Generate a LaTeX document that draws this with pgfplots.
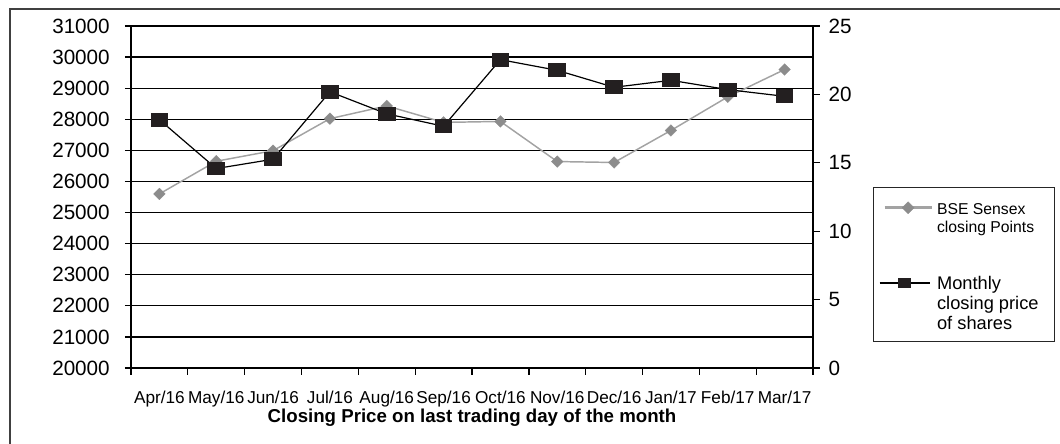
\documentclass[border=0pt]{standalone}
\usepackage{fontspec}
\setmainfont{Liberation Sans}
\usepackage{pgfplots}
\pgfplotsset{compat=1.18}
\definecolor{sgray}{HTML}{A3A3A3}
\definecolor{mgray}{HTML}{8C8C8C}
\definecolor{sqblack}{HTML}{231F20}
\pgfplotsset{
  limgA/.style={legend image code/.code={\draw[mark repeat=2,mark phase=2,##1,yshift=5.25pt] plot coordinates {(3.75pt,0pt) (21.4pt,0pt) (39pt,0pt)};}},
  limgB/.style={legend image code/.code={\draw[mark repeat=2,mark phase=2,##1,yshift=5.25pt,line width=2pt,mark size=3.1pt] plot coordinates {(0pt,0pt) (18.75pt,0pt) (37.5pt,0pt)};}},
}

\begin{document}
\begin{tikzpicture}
\path[use as bounding box] (-98.25pt,-56.25pt) rectangle (696.75pt,276pt);
\draw[line width=1.5pt, color=black!75] (-90.75pt,-80pt) -- (-90.75pt,269.25pt) -- (720pt,269.25pt);
\fill[white] (556.5pt,20.25pt) rectangle (692.25pt,135pt);

\begin{axis}[
  at={(0,0)}, anchor=south west,
  scale only axis, width=511.5pt, height=256.5pt,
  xmin=-0.5, xmax=11.5, ymin=20000, ymax=31000,
  xtick={0,...,11},
  xticklabels={Apr/16,May/16,Jun/16,Jul/16,Aug/16,Sep/16,Oct/16,Nov/16,Dec/16,Jan/17,Feb/17,Mar/17},
  minor xtick={-0.5,0.5,...,11.5},
  major x tick style={draw=none},
  ytick distance=1000,
  xtick pos=bottom, ytick pos=left,
  tick align=outside,
  major tick length=4.5pt, minor tick length=5pt,
  tick style={line width=1pt, black},
  axis line style={line width=1.4pt, black},
  ymajorgrids, grid style={line width=1pt, black},
  scaled y ticks=false,
  /pgf/number format/assume math mode=true,
  yticklabel style={/pgf/number format/set thousands separator={}, font=\fontsize{15.5}{18}\selectfont, anchor=east, inner sep=0pt, xshift=-11.25pt},
  xticklabel style={font=\fontsize{12.9}{15}\selectfont, anchor=base, inner sep=0pt, yshift=-22pt},
  xlabel={Closing Price on last trading day of the month},
  xlabel style={font=\bfseries\fontsize{14}{16}\selectfont, at={(axis description cs:0.5,0)}, anchor=base, inner sep=0pt, yshift=-40.5pt},
]
\addplot[color=sgray, line width=1.1pt, mark=square*, mark size=3.1pt,
  mark options={rotate=45, fill=mgray, draw=mgray, line width=0.2pt}]
  coordinates {(0,25600) (1,26650) (2,26990) (3,28020) (4,28430) (5,27900) (6,27930) (7,26640) (8,26610) (9,27640) (10,28720) (11,29600)};
\end{axis}

\begin{axis}[
  at={(0,0)}, anchor=south west,
  scale only axis, width=511.5pt, height=256.5pt,
  xmin=-0.5, xmax=11.5, ymin=0, ymax=25,
  ytick distance=5,
  axis x line=none, axis y line*=right,
  tick align=outside,
  major tick length=5pt,
  tick style={line width=1pt, black},
  axis line style={line width=1.4pt, black, -},
  /pgf/number format/assume math mode=true,
  yticklabel style={font=\fontsize{15.5}{18}\selectfont, anchor=west, inner sep=0pt, xshift=6.5pt},
  legend cell align=left,
  legend style={at={(axis description cs:1.088,0.526)}, anchor=north west,
    draw=none, fill=none, inner xsep=3.75pt, inner ysep=10pt,
    row sep=45pt, column sep=3pt, nodes={inner sep=0pt, anchor=base west}},
]
\addlegendimage{color=sgray, line width=2.2pt, mark=square*, mark size=3.2pt,
  mark options={rotate=45, fill=mgray, draw=mgray, line width=0.2pt}, limgA}
\addlegendentry[font=\fontsize{11.8}{13.5}\selectfont]{\parbox[t]{92pt}{\raggedright BSE Sensex\\closing Points}}
\addplot[color=black, line width=0.9pt, mark=square*, mark size=4.75pt,
  mark options={xscale=1.31, fill=sqblack, draw=sqblack}, limgB]
  coordinates {(0,18.15) (1,14.58) (2,15.26) (3,20.19) (4,18.58) (5,17.67) (6,22.54) (7,21.76) (8,20.52) (9,21.03) (10,20.35) (11,19.86)};
\addlegendentry[font=\fontsize{13.7}{15}\selectfont]{\parbox[t]{92pt}{\raggedright Monthly\\closing price\\of shares}}
\end{axis}
\draw[line width=0.75pt, black!85] (556.5pt,20.25pt) rectangle (692.25pt,135pt);
\end{tikzpicture}
\end{document}
